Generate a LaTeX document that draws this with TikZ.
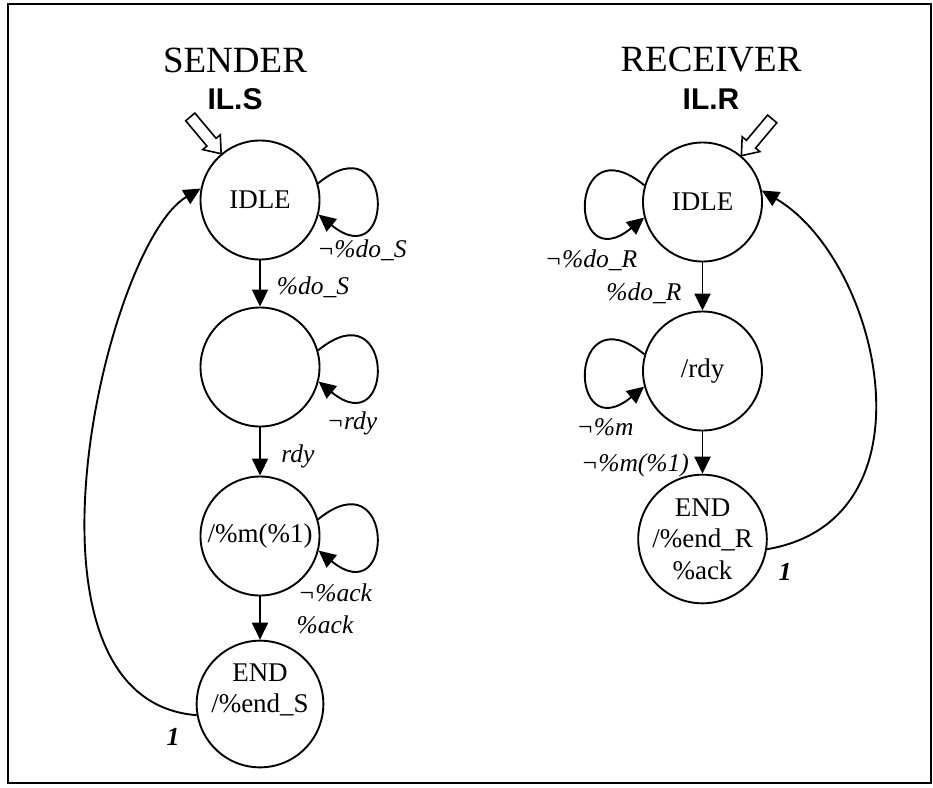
\documentclass[tikz,border=0pt]{standalone}
\usepackage{fontspec}
\setmainfont{Liberation Serif}
\newfontfamily\arialfont{Liberation Sans}
\usetikzlibrary{arrows.meta}
\begin{document}
\begin{tikzpicture}[x=1pt,y=-1pt,
  state/.style={circle,draw,line width=1.9pt,minimum size=119pt,inner sep=0pt,align=center,font=\fontsize{27}{31.5}\selectfont},
  edge/.style={line width=1.9pt,-{Triangle[length=17pt,width=16pt]}},
  lbl/.style={font=\fontsize{25.5}{30}\selectfont\itshape,inner sep=0pt},
  onelbl/.style={font=\fontsize{26}{30}\selectfont\bfseries\itshape,inner sep=0pt},
  titlelbl/.style={font=\fontsize{37}{44}\selectfont,inner sep=0pt},
  sublbl/.style={font=\arialfont\bfseries\fontsize{30}{36}\selectfont,inner sep=0pt},
  initarr/.style={draw,line width=1.6pt,fill=white}]
\useasboundingbox (0,0) rectangle (933,787);
\draw[line width=2pt] (8,4) rectangle (931,783);

% titles
\node[titlelbl] (sTitle) at (235,60) {SENDER};
\node[sublbl] (sSub) at (235,99) {IL.S};
\node[titlelbl] (rTitle) at (711,60) {RECEIVER};
\node[sublbl] (rSub) at (711,99) {IL.R};

% sender states
\node[state] (sIdle) at (260,200) {IDLE};
\node[state] (sWait) at (260,367) {};
\node[state] (sSend) at (260,536) {/\%m(\%1)};
\node[state] (sEnd) at (260,704) {END\\/\%end\_S\\\mbox{}};

% receiver states
\node[state] (rIdle) at (702.5,202) {IDLE};
\node[state] (rWait) at (702.5,371) {/rdy};
\node[state] (rEnd) at (702.5,539) {END\\/\%end\_R\\\%ack};

% initial arrows
\begin{scope}[shift={(sIdle.130)},rotate=-50]
\draw[initarr] (0,0) -- (-15,11.5) -- (-15,6) -- (-48,6) -- (-48,-6) -- (-15,-6) -- (-15,-11.5) -- cycle;
\end{scope}
\begin{scope}[shift={(rIdle.50)},rotate=-130]
\draw[initarr] (0,0) -- (-15,11.5) -- (-15,6) -- (-48,6) -- (-48,-6) -- (-15,-6) -- (-15,-11.5) -- cycle;
\end{scope}

% sender transitions
\draw[edge] (sIdle) -- (sWait);
\draw[edge] (sWait) -- (sSend);
\draw[edge] (sSend) -- (sEnd);
\draw[edge] (sIdle.16) .. controls +(77,-63) and +(77,63) .. (sIdle.-14);
\draw[edge] (sWait.16) .. controls +(77,-63) and +(77,63) .. (sWait.-14);
\draw[edge] (sSend.16) .. controls +(77,-63) and +(77,63) .. (sSend.-14);
\draw[edge] (sEnd.190) .. controls (0,700) and (105,245) .. (sIdle.169);

% receiver transitions
\draw[edge] (rIdle) -- (rWait);
\draw[edge] (rWait) -- (rEnd);
\draw[edge] (rIdle.164) .. controls +(-77,-63) and +(-77,63) .. (rIdle.195);
\draw[edge] (rWait.164) .. controls +(-77,-63) and +(-77,63) .. (rWait.195);
\draw[edge] (rEnd.-9) .. controls (940,520) and (880,260) .. (rIdle.11);

% sender labels
\node[lbl] (lsIdleLoop) at (362,250) {¬\%do\_S};
\node[lbl] (lsDo) at (313,287) {\%do\_S};
\node[lbl] (lsWaitLoop) at (352,423) {¬rdy};
\node[lbl] (lsRdy) at (298,456) {rdy};
\node[lbl] (lsSendLoop) at (335,593) {¬\%ack};
\node[lbl] (lsAck) at (325,625) {\%ack};
\node[onelbl] (lsOne) at (173,737) {1};

% receiver labels
\node[lbl] (lrIdleLoop) at (591,260) {¬\%do\_R};
\node[lbl] (lrDo) at (644,293) {\%do\_R};
\node[lbl] (lrWaitLoop) at (605,427) {¬\%m};
\node[lbl] (lrM) at (635,465) {¬\%m(\%1)};
\node[onelbl] (lrOne) at (785,572) {1};
\end{tikzpicture}
\end{document}
